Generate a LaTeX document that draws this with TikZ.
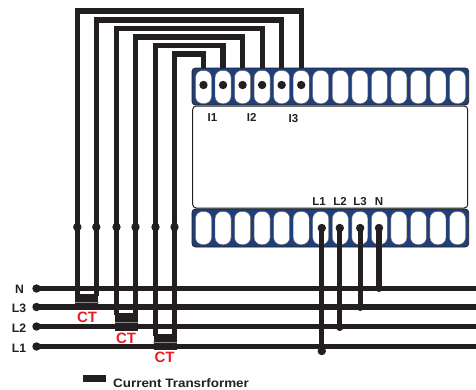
\documentclass[tikz,border=0pt]{standalone}
\usepackage{fontspec}
\setmainfont{Liberation Sans}
\definecolor{ink}{HTML}{231F20}
\definecolor{panel}{HTML}{1F3F7C}
\definecolor{ctred}{HTML}{ED1C24}
\tikzset{
  wire/.style={draw=ink,line width=5.2pt,line join=miter},
  busline/.style={draw=ink,line width=5.2pt},
  dotnode/.style={circle,fill=ink,inner sep=0pt,minimum size=8.4pt},
  tapdot/.style={circle,fill=ink,inner sep=0pt,minimum size=7pt},
  strip/.style={draw=ink,line width=0.8pt,fill=panel,rounded corners=3.5pt},
  slot/.style={draw=ink!70,line width=0.4pt,fill=white,rounded corners=7pt,inner sep=0pt,minimum width=16pt,minimum height=33pt},
  body/.style={draw=ink,line width=1pt,fill=white,rounded corners=3.5pt},
  ctblock/.style={fill=ink,inner sep=0pt,minimum width=23.4pt},
  seam/.style={draw=black!45,line width=0.5pt},
  lab/.style={font=\bfseries\fontsize{11.5}{13}\selectfont,text=ink,inner sep=0pt,anchor=base},
  linelab/.style={font=\bfseries\fontsize{12.2}{14}\selectfont,text=ink,inner sep=0pt,anchor=base},
  ctlab/.style={font=\bfseries\fontsize{15}{16}\selectfont,text=ctred,inner sep=0pt,anchor=base}
}
\begin{document}
\begin{tikzpicture}[x=1pt,y=-1pt]
\useasboundingbox (0,0) rectangle (476,389);
\fill[white] (0,0) rectangle (476,389);
% meter body and terminal strips
\draw[body] (192.7,106) rectangle (467.7,208);
\draw[strip] (192,68) rectangle (468.7,105);
\draw[strip] (192,209) rectangle (468.7,247);
\foreach \i in {1,...,14}{
  \pgfmathsetmacro{\xx}{203.5+(\i-1)*19.54}
  \node[slot] (t\i) at (\xx,87) {};
  \node[slot] (b\i) at (\xx,228) {};
}
% bus lines
\node[dotnode] (nN) at (36.5,288.5) {};
\node[dotnode] (nL3) at (36.5,307) {};
\node[dotnode] (nL2) at (36.5,326.5) {};
\node[dotnode] (nL1) at (36.5,346.5) {};
\coordinate (eN) at (476,288.5);
\coordinate (eL3) at (476,307);
\coordinate (eL2) at (476,326.5);
\coordinate (eL1) at (476,346.5);
\draw[busline] (nN.center)--(eN);
\draw[busline] (nL3.center)--(eL3);
\draw[busline] (nL2.center)--(eL2);
\draw[busline] (nL1.center)--(eL1);
% CT blocks
\node[ctblock,minimum height=16pt] (ct3) at (86.7,302) {};
\node[ctblock,minimum height=18pt] (ct2) at (126.5,322) {};
\node[ctblock,minimum height=16pt] (ct1) at (165.3,342) {};
\draw[seam] (ct3.west) -- (ct3.east);
\draw[seam] (ct2.west) -- (ct2.east);
\draw[seam] (ct1.west) -- (ct1.east);
% CT secondaries
\coordinate (s1a) at (77.3,296); \coordinate (s1b) at (96.3,296);
\coordinate (s2a) at (116.5,315); \coordinate (s2b) at (135.5,315);
\coordinate (s3a) at (155.5,336); \coordinate (s3b) at (174.5,336);
\foreach \n/\a/\y/\t in {j1/s1a/11/t6, j2/s1b/20/t5, j3/s2a/28.5/t4, j4/s2b/37/t3, j5/s3a/45.5/t2, j6/s3b/54/t1}{
  \draw[wire] (\a) -- (\a |- 0,\y) -- (\t |- 0,\y) -- (\t |- 0,68);
  \node[dotnode] (\n) at (\a |- 0,227) {};
}
% terminal dots
\foreach \t in {1,...,6}{ \node[dotnode] (dt\t) at (t\t |- 0,85) {}; }
\node[dotnode] (db7) at (321.8,228) {};
\node[dotnode] (db8) at (339.8,228) {};
\node[dotnode] (db9) at (360.2,228) {};
\node[dotnode] (db10) at (379,228) {};
\node[dotnode] (jL1) at (321.8,351) {};
\node[tapdot] (jL2) at (339.8,327.5) {};
\node[tapdot] (jL3) at (360.2,307.5) {};
\node[tapdot] (jN) at (379,288.5) {};
\draw[wire] (db7.center) -- (jL1.center);
\draw[wire] (db8.center) -- (jL2.center);
\draw[wire] (db9.center) -- (jL3.center);
\draw[wire] (db10.center) -- (jN.center);
% labels
\node[lab] (li1) at (212.5,121.2) {I1};
\node[lab] (li2) at (251.7,121.2) {I2};
\node[lab] (li3) at (293.5,122) {I3};
\node[lab] (ll1) at (319,205.2) {L1};
\node[lab] (ll2) at (340,205.2) {L2};
\node[lab] (ll3) at (360,205.2) {L3};
\node[lab] (ln) at (379,205.2) {N};
\node[linelab] (bn) at (19.5,293) {N};
\node[linelab] (b3) at (19,312.5) {L3};
\node[linelab] (b2) at (19,332.5) {L2};
\node[linelab] (b1) at (19,352.5) {L1};
\node[ctlab] (c3) at (87,322.5) {CT};
\node[ctlab] (c2) at (126,343) {CT};
\node[ctlab] (c1) at (164.5,362.5) {CT};
% legend
\node[fill=ink,inner sep=0pt,minimum width=23pt,minimum height=7pt] (leg) at (94.5,378.5) {};
\node[anchor=base west,inner sep=0pt,text=ink,font=\bfseries\fontsize{12.2}{14}\selectfont] (legt) at (113,387.3) {\scalebox{1.1}[1]{Current Transrformer}};
\end{tikzpicture}
\end{document}
